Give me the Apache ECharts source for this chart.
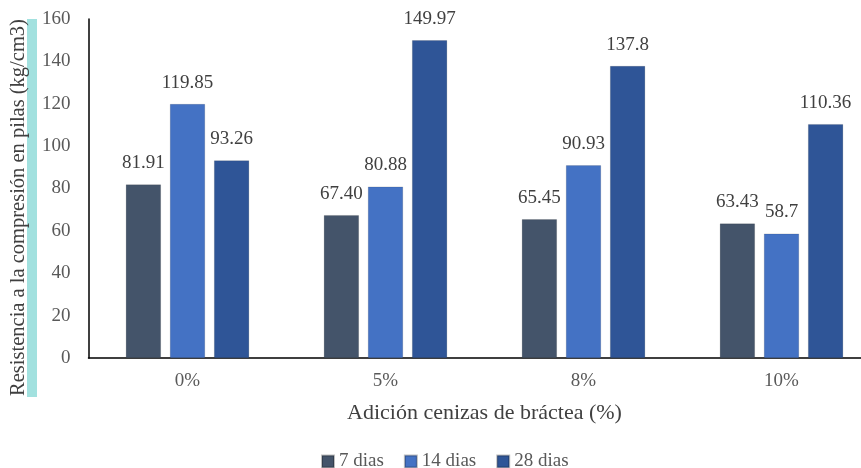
<!DOCTYPE html>
<html><head><meta charset="utf-8">
<script src="https://cdn.jsdelivr.net/npm/echarts@6/dist/echarts.min.js"></script>
<style>html,body{margin:0;padding:0;background:#fff}#c{width:861px;height:468px}</style>
</head><body><div id="c"></div>
<script>
const categories = ['0%', '5%', '8%', '10%'];
const seriesNames = ['7 dias', '14 dias', '28 dias'];
const dias7 = [81.91, 67.40, 65.45, 63.43];
const dias14 = [119.85, 80.88, 90.93, 58.7];
const dias28 = [93.26, 149.97, 137.8, 110.36];
const labels7 = ['81.91', '67.40', '65.45', '63.43'];
const labels14 = ['119.85', '80.88', '90.93', '58.7'];
const labels28 = ['93.26', '149.97', '137.8', '110.36'];
const yTicks = [0, 20, 40, 60, 80, 100, 120, 140, 160];

const colors = ['#44546A', '#4472C4', '#2F5597'];
const font = '"Liberation Serif", "Times New Roman", serif';
function mk(name, data, labels, i) {
  return {
    name, type: 'bar', data,
    barWidth: 35, barGap: '26%',
    itemStyle: { color: colors[i], borderColor: 'rgba(0,0,0,0.25)', borderWidth: 0.5 },
    label: { show: true, position: 'top', distance: 12, color: '#404040', fontFamily: font, fontSize: 19,
      formatter: p => labels[p.dataIndex] }
  };
}
const chart = echarts.init(document.getElementById('c'));
chart.setOption({
  animation: false,
  textStyle: { fontFamily: font },
  graphic: [{ type: 'rect', shape: { x: 27, y: 19, width: 10, height: 378 }, style: { fill: '#A2E1DF' }, z: 0 }],
  grid: { left: 88.5, right: -19.5, top: 19, bottom: 110, outerBoundsMode: 'none', containLabel: false },
  legend: {
    data: seriesNames, bottom: -8, left: 316, itemWidth: 12, itemHeight: 12, itemGap: 20,
    textStyle: { fontFamily: font, fontSize: 19, color: '#595959' }, icon: 'rect'
  },
  xAxis: {
    type: 'category', data: categories,
    axisLine: { lineStyle: { color: '#000', width: 1.5 } },
    axisTick: { show: false },
    axisLabel: { color: '#595959', fontFamily: font, fontSize: 19, margin: 14 },
    name: 'Adición cenizas de bráctea (%)', nameLocation: 'middle', nameGap: 44,
    nameTextStyle: { color: '#404040', fontFamily: font, fontSize: 22 }
  },
  yAxis: {
    type: 'value', min: 0, max: 160, interval: 20,
    axisLine: { show: true, lineStyle: { color: '#000', width: 1.5 } },
    axisTick: { show: false }, splitLine: { show: false },
    axisLabel: { color: '#595959', fontFamily: font, fontSize: 19, margin: 18,
      formatter: v => yTicks.includes(v) ? String(v) : '' },
    name: 'Resistencia a la compresión en pilas (kg/cm3)', nameLocation: 'middle', nameGap: 59,
    nameTextStyle: { color: '#404040', fontFamily: font, fontSize: 20.5, padding: [0, 38, 0, 0] }
  },
  series: [mk(seriesNames[0], dias7, labels7, 0), mk(seriesNames[1], dias14, labels14, 1), mk(seriesNames[2], dias28, labels28, 2)]
});
</script></body></html>
